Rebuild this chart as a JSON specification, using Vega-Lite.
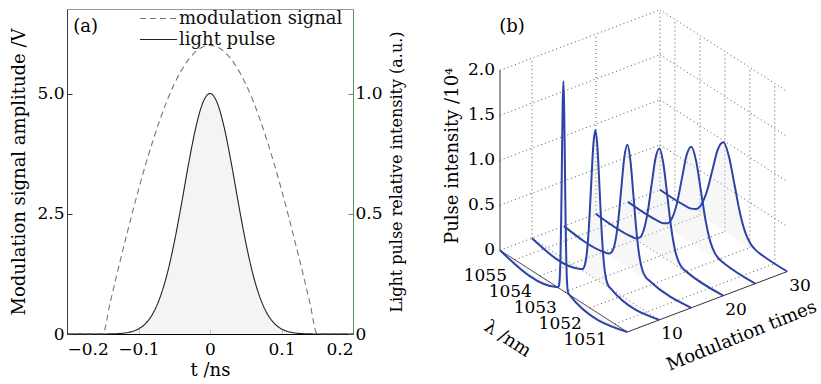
{
  "$schema": "https://vega.github.io/schema/vega-lite/v6.json",
  "background": "white",
  "padding": {"left": 10, "top": 8, "right": 0, "bottom": 0},
  "spacing": 66,
  "bounds": "flush",
  "config": {
    "font": "DejaVu Serif",
    "axis": {"labelFont": "DejaVu Serif", "titleFont": "DejaVu Serif", "titleFontWeight": "normal", "labelColor": "#000", "titleColor": "#000", "grid": false, "domainWidth": 1, "tickWidth": 1},
    "legend": {"labelFont": "DejaVu Serif"},
    "text": {"font": "DejaVu Serif", "color": "#000"}
  },
  "datasets": {
    "modsig": [
      {"t": -0.2, "v": 0, "series": "modulation signal"},
      {"t": -0.15, "v": 0, "series": "modulation signal"},
      {"t": -0.14, "v": 0.627, "series": "modulation signal"},
      {"t": -0.13, "v": 1.254, "series": "modulation signal"},
      {"t": -0.12, "v": 1.854, "series": "modulation signal"},
      {"t": -0.11, "v": 2.44, "series": "modulation signal"},
      {"t": -0.1, "v": 3.0, "series": "modulation signal"},
      {"t": -0.09, "v": 3.527, "series": "modulation signal"},
      {"t": -0.08, "v": 4.011, "series": "modulation signal"},
      {"t": -0.07, "v": 4.457, "series": "modulation signal"},
      {"t": -0.06, "v": 4.854, "series": "modulation signal"},
      {"t": -0.05, "v": 5.196, "series": "modulation signal"},
      {"t": -0.04, "v": 5.481, "series": "modulation signal"},
      {"t": -0.03, "v": 5.706, "series": "modulation signal"},
      {"t": -0.02, "v": 5.869, "series": "modulation signal"},
      {"t": -0.01, "v": 5.967, "series": "modulation signal"},
      {"t": 0, "v": 6.0, "series": "modulation signal"},
      {"t": 0.01, "v": 5.967, "series": "modulation signal"},
      {"t": 0.02, "v": 5.869, "series": "modulation signal"},
      {"t": 0.03, "v": 5.706, "series": "modulation signal"},
      {"t": 0.04, "v": 5.481, "series": "modulation signal"},
      {"t": 0.05, "v": 5.196, "series": "modulation signal"},
      {"t": 0.06, "v": 4.854, "series": "modulation signal"},
      {"t": 0.07, "v": 4.457, "series": "modulation signal"},
      {"t": 0.08, "v": 4.011, "series": "modulation signal"},
      {"t": 0.09, "v": 3.527, "series": "modulation signal"},
      {"t": 0.1, "v": 3.0, "series": "modulation signal"},
      {"t": 0.11, "v": 2.44, "series": "modulation signal"},
      {"t": 0.12, "v": 1.854, "series": "modulation signal"},
      {"t": 0.13, "v": 1.254, "series": "modulation signal"},
      {"t": 0.14, "v": 0.627, "series": "modulation signal"},
      {"t": 0.15, "v": 0, "series": "modulation signal"},
      {"t": 0.2, "v": 0, "series": "modulation signal"}
    ],
    "pulse": [
      {"t": -0.2, "p": 0, "series": "light pulse"},
      {"t": -0.15, "p": 0.0001, "series": "light pulse"},
      {"t": -0.14, "p": 0.0005, "series": "light pulse"},
      {"t": -0.13, "p": 0.0015, "series": "light pulse"},
      {"t": -0.12, "p": 0.0039, "series": "light pulse"},
      {"t": -0.11, "p": 0.0094, "series": "light pulse"},
      {"t": -0.1, "p": 0.0211, "series": "light pulse"},
      {"t": -0.09, "p": 0.0439, "series": "light pulse"},
      {"t": -0.08, "p": 0.0847, "series": "light pulse"},
      {"t": -0.07, "p": 0.151, "series": "light pulse"},
      {"t": -0.06, "p": 0.249, "series": "light pulse"},
      {"t": -0.05, "p": 0.381, "series": "light pulse"},
      {"t": -0.04, "p": 0.539, "series": "light pulse"},
      {"t": -0.03, "p": 0.707, "series": "light pulse"},
      {"t": -0.02, "p": 0.857, "series": "light pulse"},
      {"t": -0.01, "p": 0.962, "series": "light pulse"},
      {"t": 0, "p": 1.0, "series": "light pulse"},
      {"t": 0.01, "p": 0.962, "series": "light pulse"},
      {"t": 0.02, "p": 0.857, "series": "light pulse"},
      {"t": 0.03, "p": 0.707, "series": "light pulse"},
      {"t": 0.04, "p": 0.539, "series": "light pulse"},
      {"t": 0.05, "p": 0.381, "series": "light pulse"},
      {"t": 0.06, "p": 0.249, "series": "light pulse"},
      {"t": 0.07, "p": 0.151, "series": "light pulse"},
      {"t": 0.08, "p": 0.0847, "series": "light pulse"},
      {"t": 0.09, "p": 0.0439, "series": "light pulse"},
      {"t": 0.1, "p": 0.0211, "series": "light pulse"},
      {"t": 0.11, "p": 0.0094, "series": "light pulse"},
      {"t": 0.12, "p": 0.0039, "series": "light pulse"},
      {"t": 0.13, "p": 0.0015, "series": "light pulse"},
      {"t": 0.14, "p": 0.0005, "series": "light pulse"},
      {"t": 0.15, "p": 0.0001, "series": "light pulse"},
      {"t": 0.2, "p": 0, "series": "light pulse"}
    ],
    "pulses3d": [
      {"m": 5, "lam": 1055.6, "I": 0}, {"m": 5, "lam": 1053.27, "I": 0.005}, {"m": 5, "lam": 1053.24, "I": 0.026}, {"m": 5, "lam": 1053.21, "I": 0.102}, {"m": 5, "lam": 1053.18, "I": 0.315}, {"m": 5, "lam": 1053.15, "I": 0.757}, {"m": 5, "lam": 1053.12, "I": 1.413}, {"m": 5, "lam": 1053.09, "I": 2.056}, {"m": 5, "lam": 1053.06, "I": 2.33}, {"m": 5, "lam": 1053.03, "I": 2.056}, {"m": 5, "lam": 1053.0, "I": 1.413}, {"m": 5, "lam": 1052.97, "I": 0.757}, {"m": 5, "lam": 1052.94, "I": 0.315}, {"m": 5, "lam": 1052.91, "I": 0.102}, {"m": 5, "lam": 1052.88, "I": 0.026}, {"m": 5, "lam": 1052.85, "I": 0.005}, {"m": 5, "lam": 1050.5, "I": 0},
      {"m": 10, "lam": 1055.6, "I": 0}, {"m": 10, "lam": 1053.662, "I": 0.0036}, {"m": 10, "lam": 1053.576, "I": 0.0184}, {"m": 10, "lam": 1053.49, "I": 0.0727}, {"m": 10, "lam": 1053.404, "I": 0.224}, {"m": 10, "lam": 1053.318, "I": 0.537}, {"m": 10, "lam": 1053.232, "I": 1.004}, {"m": 10, "lam": 1053.146, "I": 1.4606}, {"m": 10, "lam": 1053.06, "I": 1.655}, {"m": 10, "lam": 1052.974, "I": 1.4606}, {"m": 10, "lam": 1052.888, "I": 1.004}, {"m": 10, "lam": 1052.802, "I": 0.537}, {"m": 10, "lam": 1052.716, "I": 0.224}, {"m": 10, "lam": 1052.63, "I": 0.0727}, {"m": 10, "lam": 1052.544, "I": 0.0184}, {"m": 10, "lam": 1052.458, "I": 0.0036}, {"m": 10, "lam": 1050.5, "I": 0},
      {"m": 15, "lam": 1055.6, "I": 0}, {"m": 15, "lam": 1053.921, "I": 0.003}, {"m": 15, "lam": 1053.798, "I": 0.0151}, {"m": 15, "lam": 1053.675, "I": 0.0595}, {"m": 15, "lam": 1053.552, "I": 0.1835}, {"m": 15, "lam": 1053.429, "I": 0.4403}, {"m": 15, "lam": 1053.306, "I": 0.8224}, {"m": 15, "lam": 1053.183, "I": 1.1967}, {"m": 15, "lam": 1053.06, "I": 1.356}, {"m": 15, "lam": 1052.937, "I": 1.1967}, {"m": 15, "lam": 1052.814, "I": 0.8224}, {"m": 15, "lam": 1052.691, "I": 0.4403}, {"m": 15, "lam": 1052.568, "I": 0.1835}, {"m": 15, "lam": 1052.445, "I": 0.0595}, {"m": 15, "lam": 1052.322, "I": 0.0151}, {"m": 15, "lam": 1052.199, "I": 0.003}, {"m": 15, "lam": 1050.5, "I": 0},
      {"m": 20, "lam": 1055.6, "I": 0}, {"m": 20, "lam": 1054.1625, "I": 0.0026}, {"m": 20, "lam": 1054.005, "I": 0.0131}, {"m": 20, "lam": 1053.8475, "I": 0.0518}, {"m": 20, "lam": 1053.69, "I": 0.1597}, {"m": 20, "lam": 1053.5325, "I": 0.3831}, {"m": 20, "lam": 1053.375, "I": 0.7157}, {"m": 20, "lam": 1053.2175, "I": 1.0414}, {"m": 20, "lam": 1053.06, "I": 1.18}, {"m": 20, "lam": 1052.9025, "I": 1.0414}, {"m": 20, "lam": 1052.745, "I": 0.7157}, {"m": 20, "lam": 1052.5875, "I": 0.3831}, {"m": 20, "lam": 1052.43, "I": 0.1597}, {"m": 20, "lam": 1052.2725, "I": 0.0518}, {"m": 20, "lam": 1052.115, "I": 0.0131}, {"m": 20, "lam": 1051.9575, "I": 0.0026}, {"m": 20, "lam": 1050.5, "I": 0},
      {"m": 25, "lam": 1055.6, "I": 0}, {"m": 25, "lam": 1054.39, "I": 0.0023}, {"m": 25, "lam": 1054.2, "I": 0.0118}, {"m": 25, "lam": 1054.01, "I": 0.0467}, {"m": 25, "lam": 1053.82, "I": 0.144}, {"m": 25, "lam": 1053.63, "I": 0.3455}, {"m": 25, "lam": 1053.44, "I": 0.6453}, {"m": 25, "lam": 1053.25, "I": 0.939}, {"m": 25, "lam": 1053.06, "I": 1.064}, {"m": 25, "lam": 1052.87, "I": 0.939}, {"m": 25, "lam": 1052.68, "I": 0.6453}, {"m": 25, "lam": 1052.49, "I": 0.3455}, {"m": 25, "lam": 1052.3, "I": 0.144}, {"m": 25, "lam": 1052.11, "I": 0.0467}, {"m": 25, "lam": 1051.92, "I": 0.0118}, {"m": 25, "lam": 1051.73, "I": 0.0023}, {"m": 25, "lam": 1050.5, "I": 0},
      {"m": 30, "lam": 1055.6, "I": 0}, {"m": 30, "lam": 1054.6, "I": 0.0022}, {"m": 30, "lam": 1054.38, "I": 0.0109}, {"m": 30, "lam": 1054.16, "I": 0.043}, {"m": 30, "lam": 1053.94, "I": 0.1326}, {"m": 30, "lam": 1053.72, "I": 0.3182}, {"m": 30, "lam": 1053.5, "I": 0.5944}, {"m": 30, "lam": 1053.28, "I": 0.8649}, {"m": 30, "lam": 1053.06, "I": 0.98}, {"m": 30, "lam": 1052.84, "I": 0.8649}, {"m": 30, "lam": 1052.62, "I": 0.5944}, {"m": 30, "lam": 1052.4, "I": 0.3182}, {"m": 30, "lam": 1052.18, "I": 0.1326}, {"m": 30, "lam": 1051.96, "I": 0.043}, {"m": 30, "lam": 1051.74, "I": 0.0109}, {"m": 30, "lam": 1051.52, "I": 0.0022}, {"m": 30, "lam": 1050.5, "I": 0}
    ],
    "grid3d": [
      {"l1": 1055.6, "m1": 5, "z1": 0, "l2": 1055.6, "m2": 30, "z2": 0},
      {"l1": 1055.6, "m1": 5, "z1": 0.5, "l2": 1055.6, "m2": 30, "z2": 0.5},
      {"l1": 1055.6, "m1": 5, "z1": 1, "l2": 1055.6, "m2": 30, "z2": 1},
      {"l1": 1055.6, "m1": 5, "z1": 1.5, "l2": 1055.6, "m2": 30, "z2": 1.5},
      {"l1": 1055.6, "m1": 5, "z1": 2, "l2": 1055.6, "m2": 30, "z2": 2},
      {"l1": 1055.6, "m1": 10, "z1": 0, "l2": 1055.6, "m2": 10, "z2": 2},
      {"l1": 1055.6, "m1": 20, "z1": 0, "l2": 1055.6, "m2": 20, "z2": 2},
      {"l1": 1055.6, "m1": 30, "z1": 0, "l2": 1055.6, "m2": 30, "z2": 2},
      {"l1": 1055.6, "m1": 30, "z1": 0.5, "l2": 1050.5, "m2": 30, "z2": 0.5},
      {"l1": 1055.6, "m1": 30, "z1": 1, "l2": 1050.5, "m2": 30, "z2": 1},
      {"l1": 1055.6, "m1": 30, "z1": 1.5, "l2": 1050.5, "m2": 30, "z2": 1.5},
      {"l1": 1055.6, "m1": 30, "z1": 2, "l2": 1050.5, "m2": 30, "z2": 2},
      {"l1": 1055, "m1": 30, "z1": 0, "l2": 1055, "m2": 30, "z2": 2},
      {"l1": 1054, "m1": 30, "z1": 0, "l2": 1054, "m2": 30, "z2": 2},
      {"l1": 1053, "m1": 30, "z1": 0, "l2": 1053, "m2": 30, "z2": 2},
      {"l1": 1052, "m1": 30, "z1": 0, "l2": 1052, "m2": 30, "z2": 2},
      {"l1": 1051, "m1": 30, "z1": 0, "l2": 1051, "m2": 30, "z2": 2},
      {"l1": 1055, "m1": 5, "z1": 0, "l2": 1055, "m2": 30, "z2": 0},
      {"l1": 1054, "m1": 5, "z1": 0, "l2": 1054, "m2": 30, "z2": 0},
      {"l1": 1053, "m1": 5, "z1": 0, "l2": 1053, "m2": 30, "z2": 0},
      {"l1": 1052, "m1": 5, "z1": 0, "l2": 1052, "m2": 30, "z2": 0},
      {"l1": 1051, "m1": 5, "z1": 0, "l2": 1051, "m2": 30, "z2": 0},
      {"l1": 1055.6, "m1": 10, "z1": 0, "l2": 1050.5, "m2": 10, "z2": 0},
      {"l1": 1055.6, "m1": 20, "z1": 0, "l2": 1050.5, "m2": 20, "z2": 0}
    ],
    "axes3d": [
      {"l1": 1055.6, "m1": 5, "z1": 0, "l2": 1055.6, "m2": 5, "z2": 2},
      {"l1": 1055.6, "m1": 5, "z1": 0, "l2": 1050.5, "m2": 5, "z2": 0},
      {"l1": 1050.5, "m1": 5, "z1": 0, "l2": 1050.5, "m2": 30, "z2": 0}
    ],
    "zlabels": [
      {"lam": 1055.6, "m": 5, "z": 0, "s": "0"},
      {"lam": 1055.6, "m": 5, "z": 0.5, "s": "0.5"},
      {"lam": 1055.6, "m": 5, "z": 1, "s": "1.0"},
      {"lam": 1055.6, "m": 5, "z": 1.5, "s": "1.5"},
      {"lam": 1055.6, "m": 5, "z": 2, "s": "2.0"}
    ],
    "lamlabels": [
      {"lam": 1055, "m": 5, "z": 0, "s": "1055"},
      {"lam": 1054, "m": 5, "z": 0, "s": "1054"},
      {"lam": 1053, "m": 5, "z": 0, "s": "1053"},
      {"lam": 1052, "m": 5, "z": 0, "s": "1052"},
      {"lam": 1051, "m": 5, "z": 0, "s": "1051"}
    ],
    "modlabels": [
      {"lam": 1050.5, "m": 10, "z": 0, "s": "10"},
      {"lam": 1050.5, "m": 20, "z": 0, "s": "20"},
      {"lam": 1050.5, "m": 30, "z": 0, "s": "30"}
    ]
  },
  "hconcat": [
    {
      "width": 286,
      "height": 325,
      "view": {"stroke": "#9a9a9a", "strokeWidth": 1},
      "layer": [
        {
          "data": {"name": "modsig"},
          "mark": {"type": "line", "interpolate": "monotone", "strokeWidth": 1.1},
          "encoding": {
            "x": {"field": "t", "type": "quantitative", "scale": {"domain": [-0.2, 0.2], "nice": false, "zero": false},
              "axis": {"orient": "bottom", "values": [-0.2, -0.1, 0, 0.1, 0.2], "labelExpr": "datum.value == 0 ? '0' : replace(format(datum.value, '.1f'), '-', '\u2212')", "title": "t /ns", "titleFontSize": 18, "titlePadding": 4, "labelFontSize": 17, "labelPadding": 12, "tickSize": -5, "tickColor": "#000", "domainColor": "#000"}},
            "y": {"field": "v", "type": "quantitative", "scale": {"domain": [0, 6.757], "nice": false, "zero": false},
              "axis": {"orient": "left", "values": [0, 2.5, 5], "labelExpr": "datum.value == 0 ? '0' : format(datum.value, '.1f')", "title": "Modulation signal amplitude /V", "titleFontSize": 18, "titlePadding": 8, "labelFontSize": 17, "labelPadding": 8, "tickSize": -5, "tickColor": "#333", "domainColor": "#3a3a55"}},
            "color": {"field": "series", "type": "nominal", "scale": {"domain": ["modulation signal", "light pulse"], "range": ["#777777", "#222222"]},
              "legend": {"orient": "none", "legendX": 81, "legendY": -1, "title": null, "symbolType": "M-1.85,0L1.85,0", "symbolSize": 400, "symbolStrokeWidth": 1, "labelFontSize": 18, "labelOffset": 10, "labelLimit": 0, "rowPadding": 1, "padding": 0, "labelColor": "#111"}},
            "strokeDash": {"field": "series", "type": "nominal", "scale": {"domain": ["modulation signal", "light pulse"], "range": [[6, 4], [1, 0]]},
              "legend": {"orient": "none", "legendX": 81, "legendY": -1, "title": null, "symbolType": "M-1.85,0L1.85,0", "symbolSize": 400, "symbolStrokeWidth": 1, "labelFontSize": 18, "labelOffset": 10, "labelLimit": 0, "rowPadding": 1, "padding": 0, "labelColor": "#111"}}
          }
        },
        {
          "data": {"name": "pulse"},
          "layer": [
            {
              "mark": {"type": "area", "interpolate": "monotone", "color": "#f1f1f1", "opacity": 0.8},
              "encoding": {
                "x": {"field": "t", "type": "quantitative"},
                "y": {"field": "p", "type": "quantitative", "scale": {"domain": [0, 1.3514], "nice": false, "zero": false},
                  "axis": {"orient": "right", "values": [0, 0.5, 1], "labelExpr": "datum.value == 0 ? '0' : format(datum.value, '.1f')", "title": "Light pulse relative intensity (a.u.)", "titleAngle": 270, "titleBaseline": "top", "titleFontSize": 16, "titlePadding": 6, "labelFontSize": 17, "labelPadding": 7, "tickSize": -5, "tickColor": "#5e8f5e", "domainColor": "#5e8f5e"}}
              }
            },
            {
              "mark": {"type": "line", "interpolate": "monotone", "strokeWidth": 1.1},
              "encoding": {
                "x": {"field": "t", "type": "quantitative"},
                "y": {"field": "p", "type": "quantitative", "scale": {"domain": [0, 1.3514], "nice": false, "zero": false}},
                "color": {"field": "series", "type": "nominal", "scale": {"domain": ["modulation signal", "light pulse"], "range": ["#777777", "#222222"]}},
                "strokeDash": {"field": "series", "type": "nominal", "scale": {"domain": ["modulation signal", "light pulse"], "range": [[6, 4], [1, 0]]}}
              }
            }
          ]
        },
        {
          "data": {"values": [{"t": -0.174, "v": 6.38, "s": "(a)"}]},
          "mark": {"type": "text", "fontSize": 18, "align": "center", "baseline": "middle"},
          "encoding": {
            "x": {"field": "t", "type": "quantitative"},
            "y": {"field": "v", "type": "quantitative", "scale": {"domain": [0, 6.757], "nice": false, "zero": false}, "axis": null},
            "text": {"field": "s"}
          }
        }
      ],
      "resolve": {"scale": {"y": "independent"}}
    },
    {
      "width": 400,
      "height": 325,
      "view": {"stroke": null},
      "encoding": {
        "x": {"field": "px", "type": "quantitative", "scale": {"domain": [420, 820], "nice": false, "zero": false}, "axis": null},
        "y": {"field": "py", "type": "quantitative", "scale": {"domain": [7, 332], "nice": false, "zero": false, "reverse": true}, "axis": null}
      },
      "layer": [
        {
          "data": {"name": "grid3d"},
          "transform": [
            {"calculate": "501 + (1055.6 - datum.l1) * 24.96 + (datum.m1 - 5) * 6.4", "as": "px"},
            {"calculate": "248.3 + (1055.6 - datum.l1) * 16.02 - (datum.m1 - 5) * 2.42 - datum.z1 * 90", "as": "py"},
            {"calculate": "501 + (1055.6 - datum.l2) * 24.96 + (datum.m2 - 5) * 6.4", "as": "px2"},
            {"calculate": "248.3 + (1055.6 - datum.l2) * 16.02 - (datum.m2 - 5) * 2.42 - datum.z2 * 90", "as": "py2"}
          ],
          "mark": {"type": "rule", "color": "#555555", "strokeWidth": 1, "strokeDash": [1, 3]},
          "encoding": {"x2": {"field": "px2"}, "y2": {"field": "py2"}}
        },
        {
          "data": {"name": "axes3d"},
          "transform": [
            {"calculate": "501 + (1055.6 - datum.l1) * 24.96 + (datum.m1 - 5) * 6.4", "as": "px"},
            {"calculate": "248.3 + (1055.6 - datum.l1) * 16.02 - (datum.m1 - 5) * 2.42 - datum.z1 * 90", "as": "py"},
            {"calculate": "501 + (1055.6 - datum.l2) * 24.96 + (datum.m2 - 5) * 6.4", "as": "px2"},
            {"calculate": "248.3 + (1055.6 - datum.l2) * 16.02 - (datum.m2 - 5) * 2.42 - datum.z2 * 90", "as": "py2"}
          ],
          "mark": {"type": "rule", "color": "#333333", "strokeWidth": 1},
          "encoding": {"x2": {"field": "px2"}, "y2": {"field": "py2"}}
        },
        {
          "data": {"name": "pulses3d"},
          "transform": [
            {"calculate": "501 + (1055.6 - datum.lam) * 24.96 + (datum.m - 5) * 6.4", "as": "px"},
            {"calculate": "248.3 + (1055.6 - datum.lam) * 16.02 - (datum.m - 5) * 2.42 - datum.I * 90", "as": "py"},
            {"calculate": "248.3 + (1055.6 - datum.lam) * 16.02 - (datum.m - 5) * 2.42", "as": "pyb"}
          ],
          "mark": {"type": "area", "interpolate": "monotone", "color": "#e4e4e4", "opacity": 0.3},
          "encoding": {"y2": {"field": "pyb"}, "detail": {"field": "m", "type": "nominal"}}
        },
        {
          "data": {"name": "pulses3d"},
          "transform": [
            {"calculate": "501 + (1055.6 - datum.lam) * 24.96 + (datum.m - 5) * 6.4", "as": "px"},
            {"calculate": "248.3 + (1055.6 - datum.lam) * 16.02 - (datum.m - 5) * 2.42 - datum.I * 90", "as": "py"}
          ],
          "mark": {"type": "line", "interpolate": "monotone", "color": "#2d43a5", "strokeWidth": 2},
          "encoding": {"detail": {"field": "m", "type": "nominal"}}
        },
        {
          "data": {"name": "zlabels"},
          "transform": [
            {"calculate": "501 + (1055.6 - datum.lam) * 24.96 + (datum.m - 5) * 6.4", "as": "px"},
            {"calculate": "248.3 + (1055.6 - datum.lam) * 16.02 - (datum.m - 5) * 2.42 - datum.z * 90", "as": "py"}
          ],
          "mark": {"type": "text", "fontSize": 17, "align": "right", "baseline": "middle", "dx": -5},
          "encoding": {"text": {"field": "s"}}
        },
        {
          "data": {"name": "lamlabels"},
          "transform": [
            {"calculate": "501 + (1055.6 - datum.lam) * 24.96 + (datum.m - 5) * 6.4", "as": "px"},
            {"calculate": "248.3 + (1055.6 - datum.lam) * 16.02 - (datum.m - 5) * 2.42 - datum.z * 90", "as": "py"}
          ],
          "mark": {"type": "text", "fontSize": 17, "align": "right", "baseline": "middle", "dx": -8, "dy": 16},
          "encoding": {"text": {"field": "s"}}
        },
        {
          "data": {"name": "modlabels"},
          "transform": [
            {"calculate": "501 + (1055.6 - datum.lam) * 24.96 + (datum.m - 5) * 6.4", "as": "px"},
            {"calculate": "248.3 + (1055.6 - datum.lam) * 16.02 - (datum.m - 5) * 2.42 - datum.z * 90", "as": "py"}
          ],
          "mark": {"type": "text", "fontSize": 17, "align": "left", "baseline": "middle", "dx": 2, "dy": 14},
          "encoding": {"text": {"field": "s"}}
        },
        {
          "data": {"values": [{"lam": 1055.6, "m": 5, "z": 1.05, "s": "Pulse intensity /10\u2074"}]},
          "transform": [
            {"calculate": "501 + (1055.6 - datum.lam) * 24.96 + (datum.m - 5) * 6.4", "as": "px"},
            {"calculate": "248.3 + (1055.6 - datum.lam) * 16.02 - (datum.m - 5) * 2.42 - datum.z * 90", "as": "py"}
          ],
          "mark": {"type": "text", "fontSize": 18, "align": "center", "baseline": "middle", "angle": 270, "dy": -47},
          "encoding": {"text": {"field": "s"}}
        },
        {
          "data": {"values": [{"lam": 1053.05, "m": 5, "z": 0, "s": "\u03bb /nm"}]},
          "transform": [
            {"calculate": "501 + (1055.6 - datum.lam) * 24.96 + (datum.m - 5) * 6.4", "as": "px"},
            {"calculate": "248.3 + (1055.6 - datum.lam) * 16.02 - (datum.m - 5) * 2.42 - datum.z * 90", "as": "py"}
          ],
          "mark": {"type": "text", "fontSize": 18, "align": "center", "baseline": "middle", "angle": 33, "dx": -21, "dy": 71},
          "encoding": {"text": {"field": "s"}}
        },
        {
          "data": {"values": [{"lam": 1050.5, "m": 17.5, "z": 0, "s": "Modulation times"}]},
          "transform": [
            {"calculate": "501 + (1055.6 - datum.lam) * 24.96 + (datum.m - 5) * 6.4", "as": "px"},
            {"calculate": "248.3 + (1055.6 - datum.lam) * 16.02 - (datum.m - 5) * 2.42 - datum.z * 90", "as": "py"}
          ],
          "mark": {"type": "text", "fontSize": 18, "align": "center", "baseline": "middle", "angle": 338, "dx": 19, "dy": 45},
          "encoding": {"text": {"field": "s"}}
        },
        {
          "data": {"values": [{"lam": 1055.6, "m": 5, "z": 2, "s": "(b)"}]},
          "transform": [
            {"calculate": "501 + (1055.6 - datum.lam) * 24.96 + (datum.m - 5) * 6.4", "as": "px"},
            {"calculate": "248.3 + (1055.6 - datum.lam) * 16.02 - (datum.m - 5) * 2.42 - datum.z * 90", "as": "py"}
          ],
          "mark": {"type": "text", "fontSize": 18, "align": "center", "baseline": "middle", "dx": 12, "dy": -43},
          "encoding": {"text": {"field": "s"}}
        }
      ]
    }
  ]
}
